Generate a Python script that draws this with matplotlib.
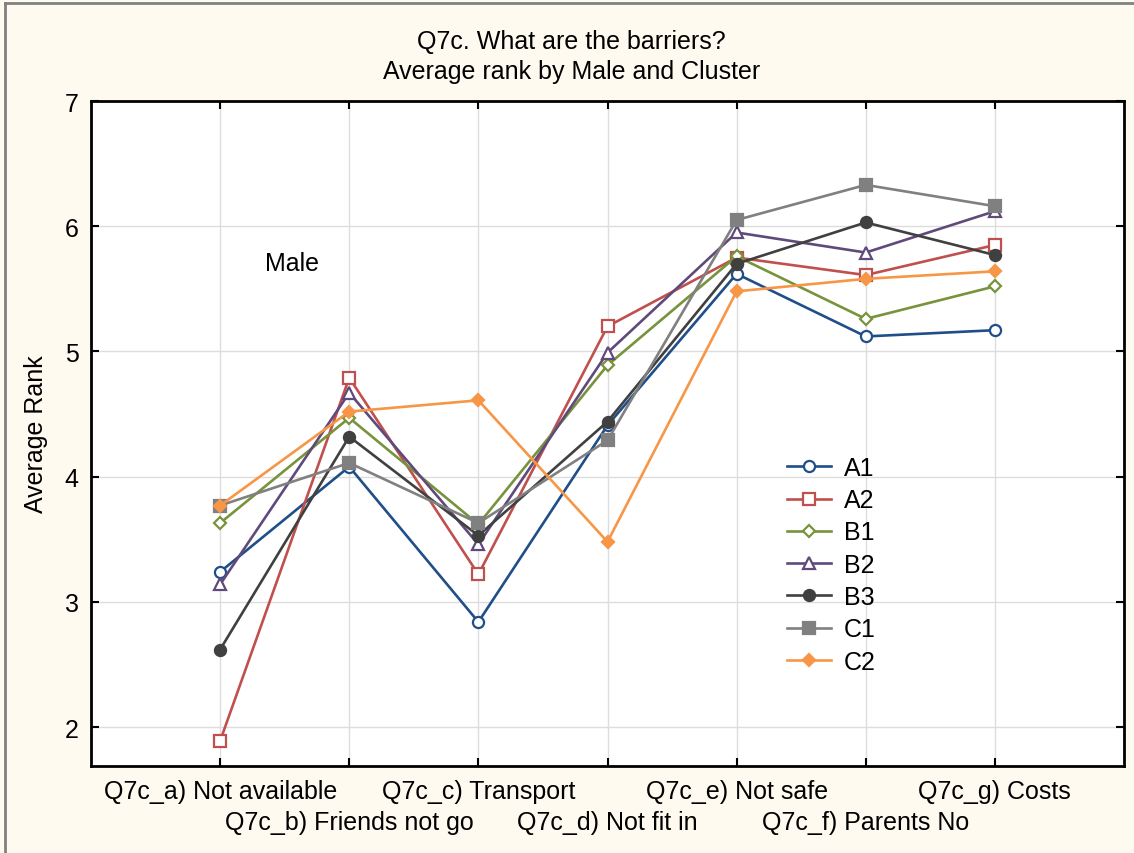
import matplotlib
matplotlib.use("Agg")
import matplotlib.pyplot as plt
from matplotlib.lines import Line2D
import numpy as np

plt.rcParams['font.family'] = ['Liberation Sans', 'DejaVu Sans']

categories = ["Q7c_a) Not available", "Q7c_b) Friends not go", "Q7c_c) Transport",
              "Q7c_d) Not fit in", "Q7c_e) Not safe", "Q7c_f) Parents No",
              "Q7c_g) Costs"]

a1 = [3.24, 4.08, 2.84, 4.41, 5.62, 5.12, 5.17]
a2 = [1.89, 4.79, 3.22, 5.20, 5.75, 5.61, 5.85]
b1 = [3.63, 4.47, 3.62, 4.89, 5.76, 5.26, 5.52]
b2 = [3.14, 4.67, 3.46, 4.99, 5.95, 5.79, 6.12]
b3 = [2.62, 4.32, 3.53, 4.44, 5.70, 6.03, 5.77]
c1 = [3.77, 4.11, 3.63, 4.29, 6.05, 6.33, 6.16]
c2 = [3.77, 4.52, 4.61, 3.48, 5.48, 5.58, 5.64]

# name, values, colour, marker, open marker?, marker size
series = [
    ("A1", a1, "#1F4E89", "o", True, 8),
    ("A2", a2, "#C0504D", "s", True, 8),
    ("B1", b1, "#77933C", "D", True, 6),
    ("B2", b2, "#604A7B", "^", True, 8),
    ("B3", b3, "#404040", "o", False, 8),
    ("C1", c1, "#808080", "s", False, 8),
    ("C2", c2, "#F79646", "D", False, 6),
]

FS = 18

fig = plt.figure(figsize=(11.34, 8.54), dpi=100, facecolor="#FFFAF0")
ax = fig.add_axes([91 / 1134, 1 - 767 / 854, (1124 - 91) / 1134, (767 - 102) / 854])
ax.set_facecolor("white")

x = np.arange(len(categories))
for name, vals, col, mk, hollow, ms in series:
    ax.plot(x, vals, color=col, lw=1.9, marker=mk, ms=ms,
            mfc="white" if hollow else col, mec=col, mew=1.6, label=name)

ax.set_xlim(-1, len(categories))
ax.set_ylim(1.69, 7)
ax.set_yticks([2, 3, 4, 5, 6, 7])
ax.set_xticks(x)
ax.set_xticklabels([])
ax.grid(True, color="#DDDDDD", lw=1)
ax.set_axisbelow(True)

# staggered category labels, two rows
for i, lab in enumerate(categories):
    ax.annotate(lab, xy=(i, 0), xycoords=("data", "axes fraction"),
                xytext=(0, -18 if i % 2 == 0 else -40.5), textcoords="offset points",
                ha="center", va="center", fontsize=FS)

ax.tick_params(axis="both", direction="in", length=6, width=1.5,
               top=True, right=True, labelsize=FS)
ax.tick_params(axis="y", pad=9)
for sp in ax.spines.values():
    sp.set_linewidth(2)
    sp.set_color("black")

ax.set_ylabel("Average Rank", fontsize=FS, labelpad=12)
ax.text(0.56, 5.71, "Male", fontsize=FS, ha="center", va="center")

fig.text(0.504, 0.951, "Q7c. What are the barriers?", ha="center", va="center", fontsize=FS)
fig.text(0.504, 0.916, "Average rank by Male and Cluster", ha="center", va="center", fontsize=FS)

ax.legend(loc="upper left", bbox_to_anchor=(0.652, 0.500), frameon=False,
          fontsize=FS, handlelength=1.76, labelspacing=0.33, handletextpad=0.5)

fig.add_artist(Line2D([5 / 1134, 5 / 1134], [0, 1 - 4 / 854], color="#808080", lw=2))
fig.add_artist(Line2D([5 / 1134, 1], [1 - 4 / 854, 1 - 4 / 854], color="#808080", lw=2))

fig.savefig("out.png", dpi=100, facecolor=fig.get_facecolor())
